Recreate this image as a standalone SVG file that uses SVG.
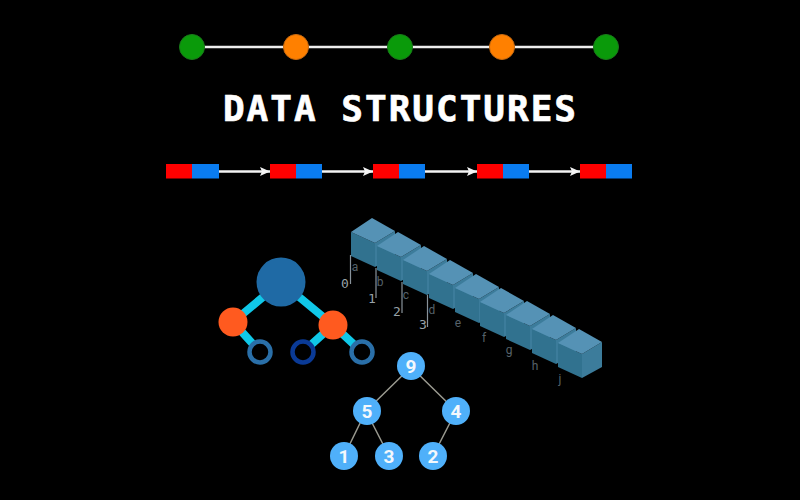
<svg xmlns="http://www.w3.org/2000/svg" width="800" height="500" viewBox="0 0 800 500">
<style>
.ln{stroke:#eee;stroke-width:2.500}
.g{fill:#0a9a0a;stroke:#1a7a1a}
.o{fill:#ff8000;stroke:#c86a10}
.r{fill:#f00}.b{fill:#0a7cf0}
.ar{stroke:#f4f4f4;stroke-width:2.500;marker-end:url(#ah)}
.t{stroke:#10c8e8;stroke-width:8}
.ring{fill:#000;stroke:#2a6fa8;stroke-width:4.500}
.hl{stroke:#9a9a90;stroke-width:1.500}
.hn{fill:#4fb0fa}
.hnt{font:bold 19px "Roboto","Liberation Sans",sans-serif;fill:#f4f8fc;text-anchor:middle}
.idx{font:13px "DejaVu Sans Mono",monospace;fill:#98a2a8;text-anchor:middle}
.let{font:12px "Roboto","Liberation Sans",sans-serif;fill:#56626a;text-anchor:middle}
.tick{stroke:#88929a;stroke-width:1.200}
</style>
<defs>
<marker id="ah" markerWidth="11" markerHeight="11" refX="10" refY="4.500" orient="auto" markerUnits="userSpaceOnUse"><path d="M0 0L10 4.500L0 9L2 4.500Z" fill="#f4f4f4"/></marker>
<g id="cube">
<polygon points="-21,14 3,25 3,49 -21,38" fill="#31728f"/>
<polygon points="3,25 23,13 23,38 3,49" fill="#3c7c9b"/>
<polygon points="0,0 23,13 3,25 -21,14" fill="#5592b5"/>
</g>
</defs>
<rect width="800" height="500" fill="#000"/>
<g id="connectors">
<path class="ln" d="M192 47H606"/>
<path class="ar" d="M218 171.500H270"/>
<path class="ar" d="M322 171.500H373"/>
<path class="ar" d="M425 171.500H477"/>
<path class="ar" d="M529 171.500H580"/>
<path class="t" d="M281 282L233 322M281 282L333 325M233 322L260 352M333 325L303 352M333 325L362 352"/>
<path class="hl" d="M411 367L366 411M411 367L456 411M366 411L344 456M366 411L389 456M456 411L433 456"/>
</g>
<g id="line-nodes">
<circle id="n1" class="g" cx="192" cy="47" r="12.500"/>
<circle id="n2" class="o" cx="296" cy="47" r="12.500"/>
<circle id="n3" class="g" cx="400" cy="47" r="12.500"/>
<circle id="n4" class="o" cx="502" cy="47" r="12.500"/>
<circle id="n5" class="g" cx="606" cy="47" r="12.500"/>
</g>
<text id="title" x="400.500" y="120.500" font-family="'DejaVu Sans Mono',monospace" font-weight="700" font-size="36" letter-spacing="2" fill="#fff" stroke="#fff" stroke-width="0.700" text-anchor="middle">DATA STRUCTURES</text>
<g id="list-1"><rect class="r" x="166" y="164" width="26" height="14.500"/><rect class="b" x="192" y="164" width="27" height="14.500"/></g>
<g id="list-2"><rect class="r" x="270" y="164" width="26" height="14.500"/><rect class="b" x="296" y="164" width="26" height="14.500"/></g>
<g id="list-3"><rect class="r" x="373" y="164" width="26" height="14.500"/><rect class="b" x="399" y="164" width="26" height="14.500"/></g>
<g id="list-4"><rect class="r" x="477" y="164" width="26" height="14.500"/><rect class="b" x="503" y="164" width="26" height="14.500"/></g>
<g id="list-5"><rect class="r" x="580" y="164" width="26" height="14.500"/><rect class="b" x="606" y="164" width="26" height="14.500"/></g>
<g id="tree">
<circle cx="281" cy="282" r="24.500" fill="#1f6aa5"/>
<circle cx="233" cy="322" r="14.500" fill="#ff5a1f"/>
<circle cx="333" cy="325" r="14.500" fill="#ff5a1f"/>
<circle class="ring" cx="260" cy="352" r="10.500"/>
<circle class="ring" cx="303" cy="352" r="10.500" style="stroke:#0a3a96"/>
<circle class="ring" cx="362" cy="352" r="10.500"/>
</g>
<g id="array">
<use href="#cube" x="372" y="218"/>
<use href="#cube" x="398" y="232"/>
<use href="#cube" x="424" y="246"/>
<use href="#cube" x="450" y="260"/>
<use href="#cube" x="476" y="274"/>
<use href="#cube" x="501" y="288"/>
<use href="#cube" x="527" y="301"/>
<use href="#cube" x="553" y="315"/>
<use href="#cube" x="579" y="329"/>
<path class="tick" d="M350.500 255V284M376 268V298M402 282V313M427.500 295V327"/>
<text class="let" x="355" y="271">a</text><text class="let" x="380" y="286">b</text><text class="let" x="406" y="299">c</text><text class="let" x="432" y="314">d</text>
<text class="let" x="458" y="327">e</text><text class="let" x="484" y="342">f</text><text class="let" x="509" y="354">g</text><text class="let" x="535" y="370">h</text><text class="let" x="560" y="383">j</text>
<text class="idx" x="345" y="288">0</text><text class="idx" x="372" y="303">1</text><text class="idx" x="397" y="316">2</text><text class="idx" x="423" y="329">3</text>
</g>
<g id="h9"><circle class="hn" cx="411" cy="366" r="14"/><text class="hnt" x="411" y="372.500">9</text></g>
<g id="h5"><circle class="hn" cx="367" cy="411" r="14"/><text class="hnt" x="367" y="417.500">5</text></g>
<g id="h4"><circle class="hn" cx="456" cy="411" r="14"/><text class="hnt" x="456" y="417.500">4</text></g>
<g id="h1"><circle class="hn" cx="344" cy="456" r="14"/><text class="hnt" x="344" y="462.500">1</text></g>
<g id="h3"><circle class="hn" cx="389" cy="456" r="14"/><text class="hnt" x="389" y="462.500">3</text></g>
<g id="h2"><circle class="hn" cx="433" cy="456" r="14"/><text class="hnt" x="433" y="462.500">2</text></g>
</svg>
